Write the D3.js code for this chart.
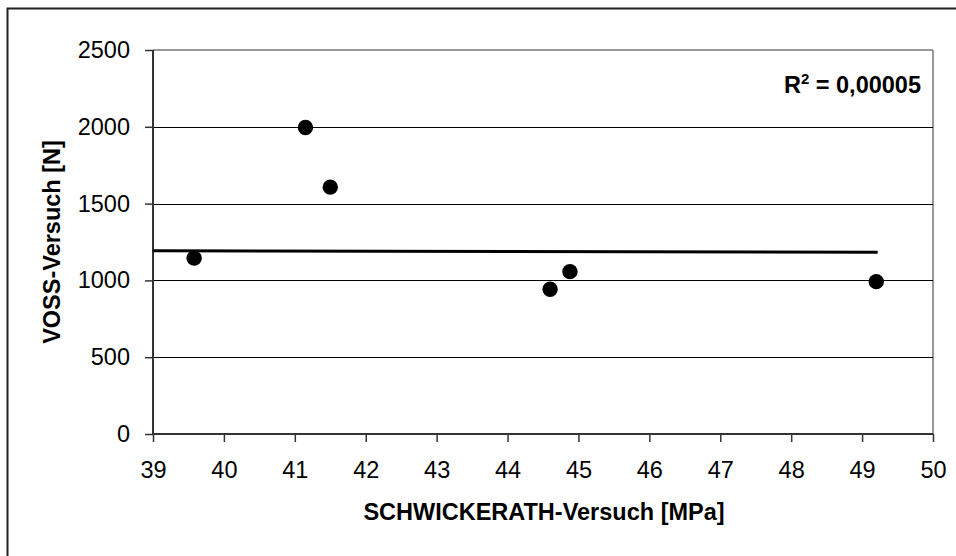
<!DOCTYPE html>
<html><head><meta charset="utf-8">
<script src="https://cdn.jsdelivr.net/npm/d3@7"></script>
<style>body{margin:0;background:#fff}svg{display:block}text{font-family:"Liberation Sans",Arial,sans-serif}</style>
</head><body>
<svg id="c" width="956" height="556"></svg>
<script>
const xValues = [39.58, 41.15, 41.5, 44.6, 44.88, 49.2];
const yValues = [1145, 1995, 1607, 942, 1057, 992];
const trendX = [39, 49.22];
const trendY = [1193, 1183];
const xTicks = [39,40,41,42,43,44,45,46,47,48,49,50];
const yTicks = [0,500,1000,1500,2000,2500];
const xTitle = "SCHWICKERATH-Versuch [MPa]";
const yTitle = "VOSS-Versuch [N]";

const svg = d3.select("#c");
const L=153, R=933, T=50, B=434;
const FS = "23.5px";
const x = d3.scaleLinear().domain([39,50]).range([L,R]);
const y = d3.scaleLinear().domain([0,2500]).range([B,T]);

// outer frame
svg.append("rect").attr("x",7.5).attr("y",8.5).attr("width",1000).attr("height",600)
  .attr("fill","#fff").attr("stroke","#222").attr("stroke-width",2);

// plot frame (top/right grey)
svg.append("line").attr("x1",L).attr("x2",R).attr("y1",T).attr("y2",T).attr("stroke","#999").attr("stroke-width",2);
svg.append("line").attr("x1",R).attr("x2",R).attr("y1",T).attr("y2",B).attr("stroke","#999").attr("stroke-width",2);

// gridlines
svg.append("g").selectAll("line").data(yTicks.filter(d=>d>0 && d<2500)).join("line")
  .attr("x1",L).attr("x2",R).attr("y1",d=>Math.round(y(d))+0.5).attr("y2",d=>Math.round(y(d))+0.5)
  .attr("stroke","#000").attr("stroke-width",1);

// axes
const yAxis = svg.append("g").attr("transform",`translate(${L},0)`)
  .call(d3.axisLeft(y).tickValues(yTicks).tickSize(8).tickPadding(15).tickFormat(d3.format("d")));
const xAxis = svg.append("g").attr("transform",`translate(0,${B})`)
  .call(d3.axisBottom(x).tickValues(xTicks).tickSize(8).tickPadding(19).tickFormat(d3.format("d")));
[yAxis,xAxis].forEach(g=>{
  g.select(".domain").attr("stroke","#333").attr("stroke-width",2);
  g.selectAll(".tick line").attr("stroke","#333").attr("stroke-width",1.5);
  g.selectAll(".tick text").attr("fill","#000").style("font-size",FS).style("font-family","'Liberation Sans',Arial,sans-serif");
});
xAxis.select(".domain").attr("d",`M${L},0H${R}`);
yAxis.select(".domain").attr("d",`M0,${B}V${T}`);

// trendline
svg.append("line").attr("x1",x(trendX[0])).attr("x2",x(trendX[1]))
  .attr("y1",y(trendY[0])).attr("y2",y(trendY[1])).attr("stroke","#000").attr("stroke-width",3);

// points
svg.append("g").selectAll("circle").data(xValues.map((v,i)=>[v,yValues[i]])).join("circle")
  .attr("cx",d=>x(d[0])).attr("cy",d=>y(d[1])).attr("r",7.7).attr("fill","#000");

// titles
svg.append("text").attr("x",(L+R)/2 + 1).attr("y",520).attr("text-anchor","middle")
  .style("font-size",FS).style("font-weight","bold").text(xTitle);
svg.append("text").attr("transform",`translate(60,${(T+B)/2}) rotate(-90)`).attr("text-anchor","middle")
  .style("font-size",FS).style("font-weight","bold").text(yTitle);

// R²
const r2 = svg.append("text").attr("x",921).attr("y",93).attr("text-anchor","end")
  .style("font-size",FS).style("font-weight","bold");
r2.append("tspan").text("R");
r2.append("tspan").attr("dy",-9).style("font-size","15px").text("2");
r2.append("tspan").attr("dy",9).text(" = 0,00005");
</script>
</body></html>
